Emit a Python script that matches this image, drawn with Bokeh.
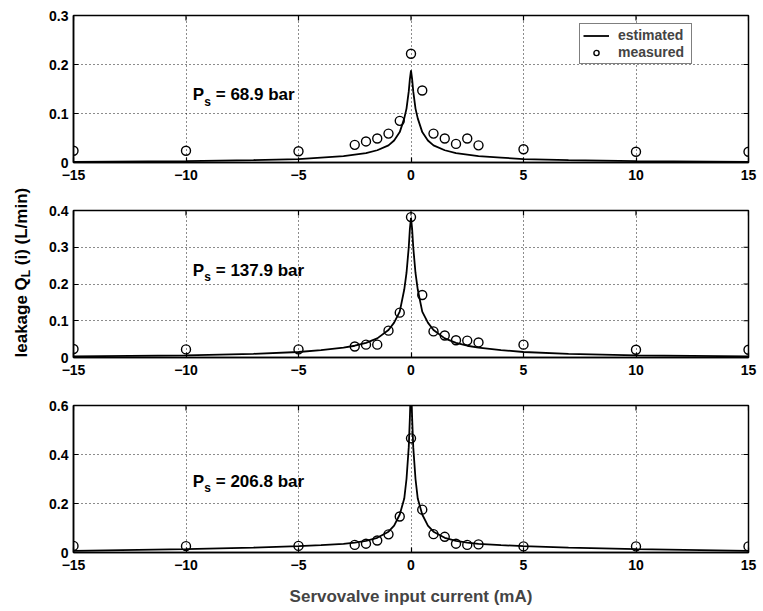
import math
from bokeh.plotting import figure
from bokeh.layouts import row, column
from bokeh.models import Range1d, FixedTicker, Legend, LegendItem
from bokeh.core.properties import value
from bokeh.embed import file_html
from bokeh.resources import INLINE

FONT = "Liberation Sans"

# ---------------- data ----------------
x_ticks = [-15, -10, -5, 0, 5, 10, 15]
x_tick_labels = ["\u221215", "\u221210", "\u22125", "0", "5", "10", "15"]

x_meas = [-15, -10, -5, -2.5, -2, -1.5, -1, -0.5, 0, 0.5, 1, 1.5, 2, 2.5, 3, 5, 10, 15]
meas_69 = [0.024, 0.024, 0.023, 0.036, 0.043, 0.049, 0.059, 0.085, 0.222, 0.147,
           0.059, 0.049, 0.038, 0.049, 0.035, 0.027, 0.022, 0.022]
meas_138 = [0.023, 0.022, 0.022, 0.030, 0.035, 0.035, 0.073, 0.122, 0.382, 0.170,
            0.071, 0.060, 0.047, 0.046, 0.041, 0.035, 0.021, 0.021]
meas_207 = [0.027, 0.026, 0.027, 0.031, 0.036, 0.049, 0.074, 0.147, 0.466, 0.175,
            0.075, 0.064, 0.036, 0.031, 0.033, 0.025, 0.025, 0.025]

x_est = [-15, -10, -7, -5, -4, -3, -2.5, -2, -1.5, -1, -0.75, -0.5, -0.3, -0.2, -0.1, -0.05,
         0, 0.05, 0.1, 0.2, 0.3, 0.5, 0.75, 1, 1.5, 2, 2.5, 3, 4, 5, 7, 10, 15]
est_69 = [0.001, 0.003, 0.005, 0.007, 0.010, 0.013, 0.016, 0.019, 0.025, 0.035, 0.045, 0.062,
          0.090, 0.110, 0.145, 0.170, 0.188, 0.170, 0.145, 0.110, 0.090, 0.062, 0.045, 0.035,
          0.025, 0.019, 0.016, 0.013, 0.010, 0.007, 0.005, 0.003, 0.001]
est_138 = [0.003, 0.006, 0.010, 0.015, 0.020, 0.027, 0.032, 0.040, 0.052, 0.075, 0.095, 0.125,
           0.185, 0.230, 0.300, 0.350, 0.380, 0.350, 0.300, 0.230, 0.185, 0.125, 0.095, 0.075,
           0.052, 0.040, 0.032, 0.027, 0.020, 0.015, 0.010, 0.006, 0.003]
est_207 = [0.007, 0.014, 0.020, 0.026, 0.030, 0.035, 0.040, 0.047, 0.060, 0.085, 0.110, 0.155,
           0.220, 0.300, 0.430, 0.550, 0.700, 0.550, 0.430, 0.300, 0.220, 0.155, 0.110, 0.085,
           0.060, 0.047, 0.040, 0.035, 0.030, 0.026, 0.020, 0.014, 0.007]

y_ticks_69 = [0, 0.1, 0.2, 0.3]
y_labels_69 = ["0", "0.1", "0.2", "0.3"]
y_ticks_138 = [0, 0.1, 0.2, 0.3, 0.4]
y_labels_138 = ["0", "0.1", "0.2", "0.3", "0.4"]
y_ticks_207 = [0, 0.2, 0.4, 0.6]
y_labels_207 = ["0", "0.2", "0.4", "0.6"]

ps_values = ["= 68.9 bar", "= 137.9 bar", "= 206.8 bar"]
ps_pos = [(-9.7, 0.138), (-9.7, 0.238), (-9.7, 0.290)]


def make_panel(est, meas, ymax, yt, yl, ps_text, ps_xy, top, bottom, xlabel=None):
    p = figure(frame_width=675, frame_height=147,
               x_range=Range1d(-15, 15), y_range=Range1d(0, ymax),
               output_backend="svg", toolbar_location=None,
               min_border_left=29, min_border_right=14,
               min_border_top=top, min_border_bottom=bottom)
    p.background_fill_color = "white"
    p.border_fill_color = "white"
    p.outline_line_color = "black"
    p.outline_line_width = 1.5

    p.xaxis.ticker = FixedTicker(ticks=x_ticks)
    p.xaxis.major_label_overrides = dict(zip(x_ticks, x_tick_labels))
    p.yaxis.ticker = FixedTicker(ticks=yt)
    p.yaxis.major_label_overrides = dict(zip(yt, yl))
    for ax in (p.xaxis, p.yaxis):
        ax.axis_line_color = "black"
        ax.axis_line_width = 1.5
        ax.major_tick_in = 5
        ax.major_tick_out = 0
        ax.major_tick_line_color = "black"
        ax.major_tick_line_width = 1.2
        ax.minor_tick_line_color = None
        ax.major_label_text_font = FONT
        ax.major_label_text_font_size = "14px"
        ax.major_label_text_font_style = "bold"
        ax.major_label_text_color = "black"
    p.xaxis.major_label_standoff = 7
    p.yaxis.major_label_standoff = 5

    for g in (p.xgrid, p.ygrid):
        g.grid_line_color = "black"
        g.grid_line_dash = "1 3"
        g.grid_line_width = 1
        g.grid_line_alpha = 0.9

    # mirrored inward ticks on the top and right edges of the box
    p.ray(x=x_ticks, y=[ymax] * len(x_ticks), length=5, length_units="screen",
          angle=-math.pi / 2, line_color="black", line_width=1.2)
    p.ray(x=[15] * len(yt), y=yt, length=5, length_units="screen",
          angle=math.pi, line_color="black", line_width=1.2)

    ln = p.line(x_est, est, line_color="black", line_width=1.8)
    sc = p.scatter(x_meas, meas, marker="circle", size=9, fill_alpha=0,
                   line_color="black", line_width=1.4)

    x0, y0 = ps_xy
    p.text([x0], [y0], text=["P"], text_font=value(FONT), text_font_size="17px",
           text_font_style="bold",
           text_align="left", text_baseline="alphabetic", text_color="black")
    p.text([x0], [y0], text=["s"], text_font=value(FONT), text_font_size="12px",
           text_font_style="bold", x_offset=11.5, y_offset=7,
           text_align="left", text_baseline="alphabetic", text_color="black")
    p.text([x0], [y0], text=[ps_text], text_font=value(FONT), text_font_size="17px",
           text_font_style="bold", x_offset=23,
           text_align="left", text_baseline="alphabetic", text_color="black")

    if xlabel:
        p.xaxis.axis_label = xlabel
        p.xaxis.axis_label_text_font = FONT
        p.xaxis.axis_label_text_font_size = "17px"
        p.xaxis.axis_label_text_font_style = "bold"
        p.xaxis.axis_label_standoff = 14
    return p, ln, sc


p1, l1, c1 = make_panel(est_69, meas_69, 0.3, y_ticks_69, y_labels_69,
                        ps_values[0], ps_pos[0], 15, 26)
p2, _, _ = make_panel(est_138, meas_138, 0.4, y_ticks_138, y_labels_138,
                      ps_values[1], ps_pos[1], 22, 26)
p3, _, _ = make_panel(est_207, meas_207, 0.6, y_ticks_207, y_labels_207,
                      ps_values[2], ps_pos[2], 22, 55,
                      xlabel="Servovalve input current (mA)")

legend = Legend(items=[LegendItem(label="estimated", renderers=[l1]),
                       LegendItem(label="measured", renderers=[c1])],
                location=(506, 98))
legend.border_line_color = "black"
legend.border_line_width = 1.2
legend.background_fill_color = "white"
legend.background_fill_alpha = 1
legend.label_text_font = FONT
legend.label_text_font_size = "14px"
legend.label_text_font_style = "bold"
legend.glyph_width = 26
legend.glyph_height = 13
legend.label_height = 13
legend.label_width = 70
legend.label_standoff = 9
legend.spacing = 1
legend.padding = 3
legend.margin = 0
p1.add_layout(legend)

# ---- y-axis label (with subscript) drawn in a narrow side canvas ----
H = 607
lab = figure(width=44, height=H, x_range=Range1d(0, 44), y_range=Range1d(H, 0),
             output_backend="svg", toolbar_location=None, min_border=0)
lab.axis.visible = False
lab.grid.visible = False
lab.outline_line_color = None
lab.background_fill_color = "white"
lab.border_fill_color = "white"
ang = math.pi / 2
common = dict(angle=ang, text_font=value(FONT), text_font_style="bold",
              text_align="left", text_baseline="alphabetic", text_color="black")
lab.text([21], [357], text=["leakage Q"], text_font_size="17px", **common)
lab.text([25], [276.7], text=["L"], text_font_size="12px", **common)
lab.text([21], [264.7], text=["(i) (L/min)"], text_font_size="17px", **common)

layout = row(lab, column(p1, p2, p3, spacing=0), spacing=0)

open("out.html", "w").write(file_html(layout, INLINE))
